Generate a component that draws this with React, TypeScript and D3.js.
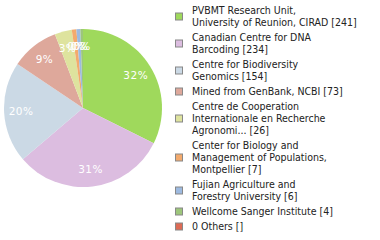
import React from "react";
import * as d3 from "d3";

const labels: string[][] = [
  ["PVBMT Research Unit,", "University of Reunion, CIRAD [241]"],
  ["Canadian Centre for DNA", "Barcoding [234]"],
  ["Centre for Biodiversity", "Genomics [154]"],
  ["Mined from GenBank, NCBI [73]"],
  ["Centre de Cooperation", "Internationale en Recherche", "Agronomi... [26]"],
  ["Center for Biology and", "Management of Populations,", "Montpellier [7]"],
  ["Fujian Agriculture and", "Forestry University [6]"],
  ["Wellcome Sanger Institute [4]"],
  ["0 Others []"],
];
const values: number[] = [241, 234, 154, 73, 26, 7, 6, 4, 0];
const colors: string[] = [
  "#9fd95c",
  "#dcbde0",
  "#cbd9e5",
  "#dea89b",
  "#dee39e",
  "#f3aa6d",
  "#9dbae0",
  "#9dc67b",
  "#dd6b55",
];

export default function App() {
  const cx = 83;
  const cy = 108;
  const r = 79;
  const total = d3.sum(values);
  const pie = d3.pie<number>().sort(null).value((d) => d);
  const arcs = pie(values);
  const arc = d3.arc<d3.PieArcDatum<number>>().innerRadius(0).outerRadius(r);
  const labelArc = d3.arc<d3.PieArcDatum<number>>().innerRadius(62).outerRadius(62);

  // legend layout
  const lineH = 12;
  const gap = 3;
  let y = 10;
  const items = labels.map((lines, i) => {
    const start = y;
    const end = y + (lines.length - 1) * lineH;
    y = end + lineH + gap;
    return { lines, start, end, i };
  });

  return (
    <svg width={380} height={240} style={{ position: "absolute", left: 0, top: 0 }}>
      <rect width={380} height={240} fill="#fff" />
      <g transform={`translate(${cx},${cy})`}>
        {arcs.map((a, i) =>
          a.value > 0 ? <path key={i} d={arc(a) || ""} fill={colors[i]} /> : null
        )}
        {arcs.map((a, i) => {
          if (a.value <= 0) return null;
          const [x, yy] = labelArc.centroid(a);
          const pct = Math.floor((a.value / total) * 100);
          return (
            <text
              key={"l" + i}
              x={x}
              y={yy}
              dy="0.35em"
              textAnchor="middle"
              fill="#fff"
              fontFamily="DejaVu Sans"
              fontSize={10.5}
              letterSpacing={0.5}
            >
              {pct}%
            </text>
          );
        })}
      </g>
      {items.map(({ lines, start, end, i }) => {
        const mid = (start + end) / 2;
        return (
          <g key={"g" + i}>
            <rect x={175.5} y={mid - 3} width={7} height={7} fill={colors[i]} stroke="#888" strokeWidth={1} />
            {lines.map((t, j) => (
              <text
                key={j}
                x={192}
                y={start + j * lineH}
                dy="0.35em"
                fill="#222"
                fontFamily="DejaVu Sans Condensed, DejaVu Sans"
                fontSize={10.5}
              >
                {t}
              </text>
            ))}
          </g>
        );
      })}
    </svg>
  );
}
